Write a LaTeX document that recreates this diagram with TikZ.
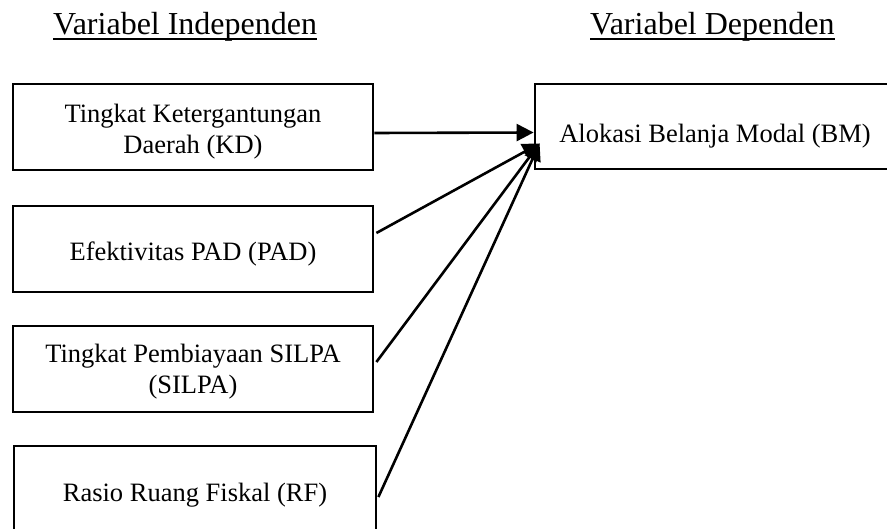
\documentclass[tikz,border=0pt]{standalone}
\usepackage{fontspec}
\setmainfont{Liberation Serif}
\usetikzlibrary{arrows.meta}
\begin{document}
\begin{tikzpicture}[x=1pt,y=-1pt,
  box/.style={draw,line width=2.8pt,inner sep=0pt},
  txt/.style={align=center,inner sep=0pt,font=\fontsize{26.5}{30.5}\selectfont},
  head/.style={inner sep=0pt,anchor=base west,font=\fontsize{32}{36}\selectfont},
  conn/.style={line width=2.6pt,-{Triangle[length=17pt,width=17pt]}},
  uline/.style={line width=2.2pt}]
\useasboundingbox (0,0) rectangle (887,529);
\clip (0,0) rectangle (887,529);
% headings
\node[head] (h1) at (53,35) {Variabel Independen};
\node[head] (h2) at (590,35) {Variabel Dependen};
\draw[uline] ([yshift=-4pt]h1.base west) -- ([yshift=-4pt]h1.base east);
\draw[uline] ([yshift=-4pt]h2.base west) -- ([yshift=-4pt]h2.base east);
% boxes
\node[box,minimum width=360pt,minimum height=86pt] (b1) at (193,127) {};
\node[box,minimum width=360pt,minimum height=86pt] (b2) at (193,249) {};
\node[box,minimum width=360pt,minimum height=86pt] (b3) at (193,369) {};
\node[box,minimum width=362pt,minimum height=94pt] (b4) at (195,493) {};
\node[box,minimum width=360pt,minimum height=85pt] (bm) at (715,126.5) {};
% texts
\node[txt] (t1) at ([yshift=-4.5pt]b1.center) {Tingkat Ketergantungan\\Daerah (KD)};
\node[txt] (t2) at ([yshift=-5pt]b2.center) {Efektivitas PAD (PAD)};
\node[txt] (t3) at ([yshift=-2.5pt]b3.center) {Tingkat Pembiayaan SILPA\\(SILPA)};
\node[txt] (t4) at ([yshift=-2pt]b4.center) {Rasio Ruang Fiskal (RF)};
\node[txt] (tm) at ([yshift=-10pt]bm.center) {Alokasi Belanja Modal (BM)};
\coordinate (tip) at ([xshift=6pt,yshift=-17pt]bm.west);
% connectors
\draw[conn] ([yshift=-6pt]b1.east) -- ([yshift=-6pt]bm.west);
\draw[conn] ([xshift=2pt,yshift=16pt]b2.east) -- (tip);
\draw[conn] ([xshift=2pt,yshift=7pt]b3.east) -- (tip);
\draw[conn] ([xshift=1pt,yshift=-4pt]b4.east) -- (tip);
\end{tikzpicture}
\end{document}
